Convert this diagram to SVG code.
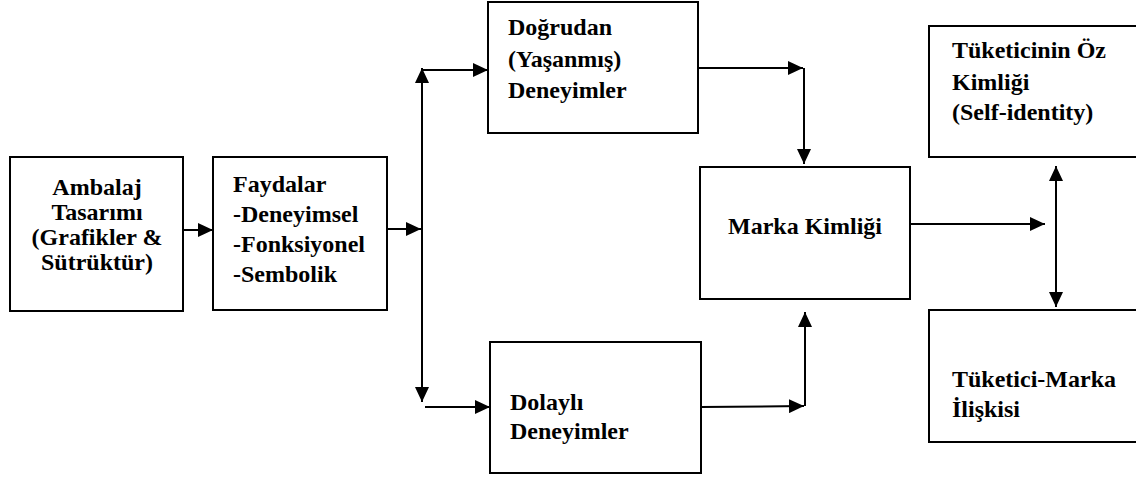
<svg xmlns="http://www.w3.org/2000/svg" width="1136" height="479" viewBox="0 0 1136 479">
<style>
.box{fill:#fff;stroke:#000;stroke-width:2}
.t{font-family:'Liberation Serif','Times New Roman',serif;font-weight:700;fill:#000;font-size:24px}
.c{stroke:#000;stroke-width:2;fill:none}
</style>
<defs>
<marker id="ah" viewBox="0 0 15 14" refX="15" refY="7" markerWidth="15" markerHeight="14" markerUnits="userSpaceOnUse" orient="auto-start-reverse">
<path d="M0,0 L15,7 L0,14 z" fill="#000"/>
</marker>
</defs>
<rect width="1136" height="479" fill="#fff"/>
<g id="connectors">
<line class="c" x1="183" y1="230" x2="213" y2="230" marker-end="url(#ah)"/>
<line class="c" x1="387" y1="229" x2="421" y2="229" marker-end="url(#ah)"/>
<line class="c" x1="422" y1="68" x2="422" y2="402" marker-start="url(#ah)" marker-end="url(#ah)"/>
<line class="c" x1="423" y1="70" x2="488" y2="70" marker-end="url(#ah)"/>
<line class="c" x1="698" y1="68" x2="803" y2="68" marker-end="url(#ah)"/>
<line class="c" x1="804" y1="68" x2="804" y2="164" marker-end="url(#ah)"/>
<line class="c" x1="425" y1="407" x2="490" y2="407" marker-end="url(#ah)"/>
<line class="c" x1="701" y1="407" x2="804" y2="406" marker-end="url(#ah)"/>
<line class="c" x1="805" y1="406" x2="805" y2="312" marker-end="url(#ah)"/>
<line class="c" x1="910" y1="224" x2="1045" y2="224" marker-end="url(#ah)"/>
<line class="c" x1="1056" y1="166" x2="1056" y2="307" marker-start="url(#ah)" marker-end="url(#ah)"/>
</g>
<g id="ambalaj">
<rect class="box" x="10" y="157" width="173" height="154"/>
<text class="t" text-anchor="middle" x="97" y="195">Ambalaj</text>
<text class="t" text-anchor="middle" x="97" y="220">Tasarımı</text>
<text class="t" text-anchor="middle" x="97" y="245">(Grafikler &amp;</text>
<text class="t" text-anchor="middle" x="97" y="270">Sütrüktür)</text>
</g>
<g id="faydalar">
<rect class="box" x="213" y="157" width="174" height="153"/>
<text class="t" x="233" y="192">Faydalar</text>
<text class="t" x="233" y="222">-Deneyimsel</text>
<text class="t" x="233" y="252">-Fonksiyonel</text>
<text class="t" x="233" y="282">-Sembolik</text>
</g>
<g id="dogrudan">
<rect class="box" x="488" y="2" width="210" height="131"/>
<text class="t" x="508" y="35">Doğrudan</text>
<text class="t" x="508" y="67">(Yaşanmış)</text>
<text class="t" x="508" y="98">Deneyimler</text>
</g>
<g id="dolayli">
<rect class="box" x="490" y="342" width="211" height="131"/>
<text class="t" x="510" y="410">Dolaylı</text>
<text class="t" x="510" y="439">Deneyimler</text>
</g>
<g id="marka">
<rect class="box" x="700" y="167" width="210" height="132"/>
<text class="t" text-anchor="middle" x="805" y="234">Marka Kimliği</text>
</g>
<g id="ozkimlik">
<rect class="box" x="929" y="26" width="220" height="131"/>
<text class="t" x="952" y="58">Tüketicinin Öz</text>
<text class="t" x="952" y="90">Kimliği</text>
<text class="t" x="952" y="120">(Self-identity)</text>
</g>
<g id="iliski">
<rect class="box" x="929" y="310" width="220" height="132"/>
<text class="t" x="952" y="387">Tüketici-Marka</text>
<text class="t" x="952" y="417">İlişkisi</text>
</g>
</svg>
